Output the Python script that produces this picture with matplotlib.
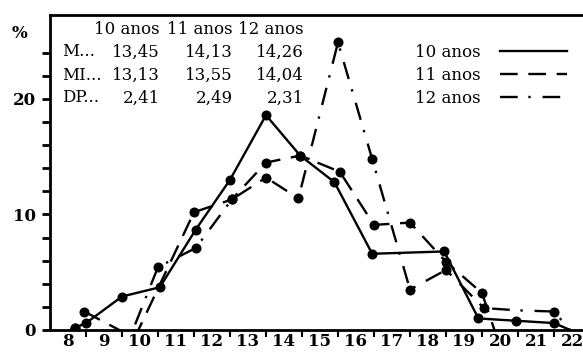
import numpy as np
import matplotlib
matplotlib.use("Agg")
import matplotlib.pyplot as plt

plt.rcParams["font.family"] = ["DejaVu Serif"]

# Dados (idade em anos, percentagem)
series_names = ["10 anos", "11 anos", "12 anos"]

x10 = [8.7, 9.0, 10.0, 11.05, 12.05, 13.0, 14.0, 14.95, 15.9, 16.95, 18.95, 19.9, 20.95, 22.0, 22.45]
y10 = [0.2, 0.6, 2.9, 3.7, 8.7, 13.0, 18.6, 15.1, 12.8, 6.6, 6.8, 1.0, 0.8, 0.6, 0.0]
m10 = [1, 1, 1, 1, 1, 1, 1, 1, 1, 1, 1, 1, 1, 1, 0]

x11 = [8.95, 10.35, 12.0, 13.05, 14.0, 14.95, 16.05, 17.0, 17.5, 18.0, 19.0, 20.0, 20.4]
y11 = [1.6, -0.7, 10.2, 11.3, 14.5, 15.1, 13.7, 9.1, 9.2, 9.3, 5.9, 3.2, -0.5]
m11 = [1, 0, 1, 1, 1, 1, 1, 1, 0, 1, 1, 1, 0]

x12 = [8.35, 8.7, 10.2, 11.0, 12.05, 13.05, 14.0, 14.9, 16.0, 16.95, 18.0, 19.0, 20.05, 21.0, 22.0, 22.5]
y12 = [-0.3, 0.2, -0.8, 5.45, 7.1, 11.3, 13.2, 11.4, 24.9, 14.8, 3.5, 5.2, 1.9, 1.7, 1.6, -0.2]
m12 = [0, 1, 0, 1, 1, 1, 1, 1, 1, 1, 1, 1, 1, 0, 1, 0]

# tabela de estatísticas
row_labels = ["M...", "MI...", "DP..."]
table_vals = [["13,45", "14,13", "14,26"],
              ["13,13", "13,55", "14,04"],
              ["2,41", "2,49", "2,31"]]

ages = list(range(8, 23))
y_major = [0, 10, 20]

fig = plt.figure(figsize=(5.83, 3.53), dpi=100)
ax = fig.add_axes([50 / 583, 1 - 330 / 353, 533 / 583, 315 / 353])

styles = [dict(ls="-"), dict(ls=(0, (7.5, 4.5))), dict(ls=(0, (7.5, 4.5, 1, 5)))]
for (xs, ys, ms), st, name in zip([(x10, y10, m10), (x11, y11, m11), (x12, y12, m12)],
                                  styles, series_names):
    ax.plot(xs, ys, color="black", lw=1.7, label=name, **st)
    mx = [a for a, k in zip(xs, ms) if k]
    my = [b for b, k in zip(ys, ms) if k]
    ax.plot(mx, my, ls="none", marker="o", ms=6.2, color="black")

ax.set_xlim(8, 8 + 533 / 36)
ax.set_ylim(0, 315 / 11.55)

ax.spines["right"].set_visible(False)
for s in ["left", "bottom", "top"]:
    ax.spines[s].set_linewidth(2)

ax.set_xticks(ages[1:])
ax.set_xticklabels([])
ax.set_xticks([a + 0.5 for a in ages], minor=True)
ax.set_xticklabels([str(a) for a in ages], minor=True, fontweight="bold", fontsize=12)
ax.tick_params(axis="x", which="major", direction="out", length=5, width=1.5)
ax.tick_params(axis="x", which="minor", length=0, pad=2)

ax.set_yticks(y_major)
ax.set_yticklabels([str(v) for v in y_major], fontweight="bold", fontsize=12)
ax.set_yticks(np.arange(0, 25, 2), minor=True)
ax.tick_params(axis="y", which="both", direction="out", length=6, width=2, pad=4)

fig.text(20 / 583, 1 - 33 / 353, "%", fontweight="bold", fontsize=12, ha="center", va="center")

# tabela no canto superior esquerdo
col_right = [160, 233, 304]
for j, name in enumerate(series_names):
    fig.text(col_right[j] / 583, 1 - 30 / 353, name, fontsize=12, ha="right", va="center")
for i, lab in enumerate(row_labels):
    yy = 1 - (52 + 23 * i) / 353
    fig.text(62 / 583, yy, lab, fontsize=12, ha="left", va="center")
    for j, v in enumerate(table_vals[i]):
        fig.text(col_right[j] / 583, yy, v, fontsize=12, ha="right", va="center")

ax.legend(loc="upper right", bbox_to_anchor=(567 / 583, 1 - 44 / 353),
          bbox_transform=fig.transFigure, frameon=False, markerfirst=False,
          handlelength=4, labelspacing=0.35, fontsize=12, borderaxespad=0,
          borderpad=0, handletextpad=1.2)

fig.savefig("out.png", dpi=100)
